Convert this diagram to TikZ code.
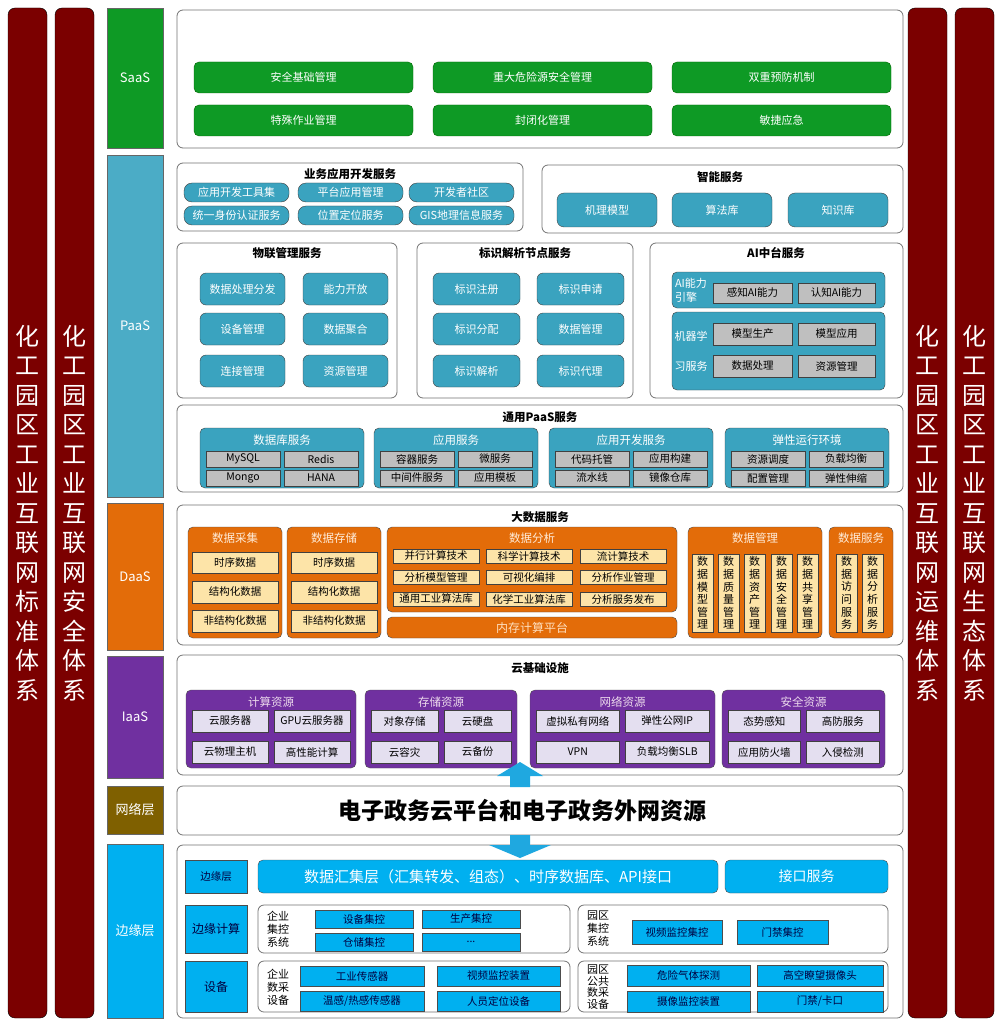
\documentclass[tikz,border=0pt]{standalone}
\usepackage{fontspec}
\setmainfont{Noto Sans CJK SC}
\usetikzlibrary{positioning}
\definecolor{pillarred}{HTML}{7B0000}
\definecolor{saasgreen}{HTML}{0E9A25}
\definecolor{paasblue}{HTML}{4BACC6}
\definecolor{btnblue}{HTML}{3AA3BF}
\definecolor{daasorange}{HTML}{E36C09}
\definecolor{cream}{HTML}{FDE4A8}
\definecolor{iaaspurple}{HTML}{7030A0}
\definecolor{lavender}{HTML}{E4DFF0}
\definecolor{netolive}{HTML}{7F6000}
\definecolor{edgecyan}{HTML}{00B0F0}
\definecolor{arrowcyan}{HTML}{1FA8E0}
\tikzset{
  blk/.style={anchor=north west,inner sep=0pt,outer sep=0pt,align=center},
  pillar/.style={blk,draw=black,fill=pillarred,rounded corners=7pt,text=white,font=\fontsize{24}{29.5}\selectfont},
  layer/.style={blk,draw=black!60,text=white,font=\fontsize{13}{15}\selectfont},
  panel/.style={blk,draw=black!55,fill=white,rounded corners=6pt,line width=0.8pt},
  ptitle/.style={inner sep=0pt,font=\bfseries\fontsize{11.5}{13}\selectfont},
  subtitle/.style={inner sep=0pt,text=white,font=\fontsize{11.5}{13}\selectfont},
  greenbtn/.style={blk,draw=black!60!green,fill=saasgreen,rounded corners=5pt,text=white,font=\fontsize{11}{13}\selectfont},
  bluebtn/.style={blk,draw=black!75,fill=btnblue,rounded corners=5pt,text=white,font=\fontsize{11}{13}\selectfont},
  bluepanel/.style={blk,draw=black!75,fill=btnblue,rounded corners=5pt},
  graybox/.style={blk,draw=black!75,fill=black!25,font=\fontsize{10.5}{12}\selectfont},
  orangepanel/.style={blk,draw=black!70,fill=daasorange,rounded corners=5pt},
  creambox/.style={blk,draw=black!75,fill=cream,font=\fontsize{10.5}{12}\selectfont},
  purplepanel/.style={blk,draw=black!70,fill=iaaspurple,rounded corners=5pt},
  lavbox/.style={blk,draw=black!75,fill=lavender,font=\fontsize{10.5}{12}\selectfont},
  cyanbox/.style={blk,draw=black!70,fill=edgecyan,text=blue!25!black,font=\fontsize{10.5}{12}\selectfont},
  sidelabel/.style={inner sep=0pt,align=left,font=\fontsize{11}{13}\selectfont},
}
\begin{document}
\begin{tikzpicture}[x=1pt,y=-1pt]
\useasboundingbox[fill=white] (0,0) rectangle (1000,1024);
        % system pillars
\node[pillar,minimum width=39pt,minimum height=1010pt] (std) at (8,8) {化\\工\\园\\区\\工\\业\\互\\联\\网\\标\\准\\体\\系};
\node[pillar,minimum width=39pt,minimum height=1010pt] (sec) at (55,8) {化\\工\\园\\区\\工\\业\\互\\联\\网\\安\\全\\体\\系};
\node[pillar,minimum width=39pt,minimum height=1010pt] (ops) at (908,8) {化\\工\\园\\区\\工\\业\\互\\联\\网\\运\\维\\体\\系};
\node[pillar,minimum width=39pt,minimum height=1010pt] (eco) at (955,8) {化\\工\\园\\区\\工\\业\\互\\联\\网\\生\\态\\体\\系};

        % layer labels
\node[layer,fill=saasgreen,minimum width=56pt,minimum height=140pt] (saas) at (107,8) {SaaS};
\node[layer,fill=paasblue,minimum width=56pt,minimum height=342pt] (paas) at (107,155) {PaaS};
\node[layer,fill=daasorange,minimum width=56pt,minimum height=147pt] (daas) at (107,503) {DaaS};
\node[layer,fill=iaaspurple,minimum width=56pt,minimum height=122pt] (iaas) at (107,656) {IaaS};
\node[layer,fill=netolive,minimum width=56pt,minimum height=48pt] (net) at (107,786) {网络层};
\node[layer,fill=edgecyan,minimum width=56pt,minimum height=174pt] (edge) at (107,844) {边缘层};

        % SaaS
\node[panel,minimum width=726pt,minimum height=138pt] (saasp) at (177,10) {};
\foreach \x/\y/\n/\t in {194/62/s1/安全基础管理,433/62/s2/重大危险源安全管理,672/62/s3/双重预防机制,
                         194/105/s4/特殊作业管理,433/105/s5/封闭化管理,672/105/s6/敏捷应急}
  \node[greenbtn,minimum width=219pt,minimum height=31pt] (\n) at (\x,\y) {\t};

        % PaaS
\node[panel,minimum width=346pt,minimum height=68pt] (bizdev) at (177,163) {};
\node[ptitle] (bizdevt) at (350,174) {业务应用开发服务};
\foreach \x/\y/\n/\t in {184/183/b1/应用开发工具集,298/183/b2/平台应用管理,409/183/b3/开发者社区,
                         184/206/b4/统一身份认证服务,298/206/b5/位置定位服务,409/206/b6/GIS地理信息服务}
  \node[bluebtn,rounded corners=8pt,minimum width=105pt,minimum height=19pt] (\n) at (\x,\y) {\t};

\node[panel,minimum width=361pt,minimum height=68pt] (smart) at (542,165) {};
\node[ptitle] (smartt) at (720,177) {智能服务};
\foreach \x/\n/\t in {557/i1/机理模型,672/i2/算法库,788/i3/知识库}
  \node[bluebtn,rounded corners=7pt,minimum width=100pt,minimum height=34pt] (\n) at (\x,193) {\t};

\node[panel,minimum width=220pt,minimum height=155pt] (iot) at (177,243) {};
\node[ptitle] (iott) at (287,253) {物联管理服务};
\foreach \x/\y/\n/\t in {200/273/w1/数据处理分发,303/273/w2/能力开放,200/313/w3/设备管理,
                         303/313/w4/数据聚合,200/355/w5/连接管理,303/355/w6/资源管理}
  \node[bluebtn,rounded corners=6pt,minimum width=85pt,minimum height=32pt] (\n) at (\x,\y) {\t};

\node[panel,minimum width=216pt,minimum height=155pt] (ident) at (417,243) {};
\node[ptitle] (identt) at (525,253) {标识解析节点服务};
\foreach \x/\y/\n/\t in {433/273/d1/标识注册,537/273/d2/标识申请,433/313/d3/标识分配,
                         537/313/d4/数据管理,433/355/d5/标识解析,537/355/d6/标识代理}
  \node[bluebtn,rounded corners=6pt,minimum width=87pt,minimum height=32pt] (\n) at (\x,\y) {\t};

\node[panel,minimum width=253pt,minimum height=155pt] (ai) at (650,243) {};
\node[ptitle] (ait) at (776,253) {AI中台服务};
\node[bluepanel,minimum width=213pt,minimum height=36pt] (aieng) at (672,272) {};
\node[subtitle,align=left,font=\fontsize{11}{14}\selectfont] (aiengl) at (691,290) {AI能力\\引擎};
\node[graybox,minimum width=79pt,minimum height=20pt] (a1) at (713,283) {感知AI能力};
\node[graybox,minimum width=77pt,minimum height=20pt] (a2) at (798,283) {认知AI能力};
\node[bluepanel,minimum width=213pt,minimum height=78pt] (ml) at (672,312) {};
\node[subtitle,align=left,font=\fontsize{11}{30}\selectfont] (mll) at (691,351) {机器学\\习服务};
\node[graybox,minimum width=79pt,minimum height=22pt] (a3) at (713,323) {模型生产};
\node[graybox,minimum width=77pt,minimum height=22pt] (a4) at (798,323) {模型应用};
\node[graybox,minimum width=79pt,minimum height=22pt] (a5) at (713,355) {数据处理};
\node[graybox,minimum width=77pt,minimum height=22pt] (a6) at (798,355) {资源管理};

\node[panel,minimum width=726pt,minimum height=87pt] (gpaas) at (177,405) {};
\node[ptitle] (gpaast) at (540,417) {通用PaaS服务};
\foreach \x/\n/\t/\a/\b/\c/\d in {200/db/数据库服务/MySQL/Redis/Mongo/HANA,
    374/app/应用服务/容器服务/微服务/中间件服务/应用模板,
    549/dev/应用开发服务/代码托管/应用构建/流水线/镜像仓库,
    725/elastic/弹性运行环境/资源调度/负载均衡/配置管理/弹性伸缩}{
  \node[bluepanel,minimum width=164pt,minimum height=60pt] (\n) at (\x,428) {};
  \node[subtitle] (\n-t) at ([yshift=-12pt]\n.north) {\t};
  \node[graybox,minimum width=74pt,minimum height=16pt] (\n-1) at ([xshift=6pt,yshift=-23pt]\n.north west) {\a};
  \node[graybox,minimum width=74pt,minimum height=16pt] (\n-2) at ([xshift=84pt,yshift=-23pt]\n.north west) {\b};
  \node[graybox,minimum width=74pt,minimum height=16pt] (\n-3) at ([xshift=6pt,yshift=-42pt]\n.north west) {\c};
  \node[graybox,minimum width=74pt,minimum height=16pt] (\n-4) at ([xshift=84pt,yshift=-42pt]\n.north west) {\d};
}

        % DaaS
\node[panel,minimum width=726pt,minimum height=140pt] (bigdata) at (177,505) {};
\node[ptitle] (bigdatat) at (540,517) {大数据服务};
\foreach \x/\n/\t in {188/col/数据采集,287/sto/数据存储}{
  \node[orangepanel,minimum width=94pt,minimum height=111pt] (\n) at (\x,527) {};
  \node[subtitle,text=orange!15] (\n-t) at ([yshift=-11pt]\n.north) {\t};
  \node[creambox,minimum width=86pt,minimum height=21pt] (\n-1) at ([xshift=4pt,yshift=-25pt]\n.north west) {时序数据};
  \node[creambox,minimum width=86pt,minimum height=22pt] (\n-2) at ([xshift=4pt,yshift=-54pt]\n.north west) {结构化数据};
  \node[creambox,minimum width=86pt,minimum height=22pt] (\n-3) at ([xshift=4pt,yshift=-83pt]\n.north west) {非结构化数据};
}
\node[orangepanel,minimum width=290pt,minimum height=85pt] (ana) at (387,527) {};
\node[subtitle,text=orange!15] (anat) at (532,538) {数据分析};
\foreach \x/\y/\n/\t in {393/549/n1/并行计算技术,486/549/n2/科学计算技术,580/549/n3/流计算技术,
                         393/570/n4/分析模型管理,486/570/n5/可视化编排,580/570/n6/分析作业管理,
                         393/592/n7/通用工业算法库,486/592/n8/化学工业算法库,580/592/n9/分析服务发布}
  \node[creambox,minimum width=86pt,minimum height=14pt] (\n) at (\x,\y) {\t};
\node[orangepanel,text=orange!25,font=\fontsize{12}{14}\selectfont,minimum width=290pt,minimum height=21pt] (mem) at (387,617) {内存计算平台};
\node[orangepanel,minimum width=134pt,minimum height=111pt] (dmgmt) at (688,527) {};
\node[subtitle,text=orange!15] (dmgmtt) at (755,538) {数据管理};
\foreach \x/\n/\t in {692/m1/数\\据\\模\\型\\管\\理,718/m2/数\\据\\质\\量\\管\\理,744/m3/数\\据\\资\\产\\管\\理,
                      771/m4/数\\据\\安\\全\\管\\理,797/m5/数\\据\\共\\享\\管\\理}
  \node[creambox,font=\fontsize{11}{12.6}\selectfont,minimum width=21pt,minimum height=78pt] (\n) at (\x,554) {\t};
\node[orangepanel,minimum width=64pt,minimum height=111pt] (dsvc) at (829,527) {};
\node[subtitle,text=orange!15] (dsvct) at (861,538) {数据服务};
\node[creambox,font=\fontsize{11}{12.6}\selectfont,minimum width=21pt,minimum height=78pt] (v1) at (836,554) {数\\据\\访\\问\\服\\务};
\node[creambox,font=\fontsize{11}{12.6}\selectfont,minimum width=21pt,minimum height=78pt] (v2) at (862,554) {数\\据\\分\\析\\服\\务};

        % IaaS
\node[panel,minimum width=726pt,minimum height=120pt] (cloud) at (177,655) {};
\node[ptitle] (cloudt) at (540,668) {云基础设施};
\foreach \x/\w/\n/\t/\a/\b/\c/\d in {186/170/cmp/计算资源/云服务器/GPU云服务器/云物理主机/高性能计算,
    365/152/stg/存储资源/对象存储/云硬盘/云容灾/云备份,
    530/185/nw/网络资源/虚拟私有网络/弹性公网IP/VPN/负载均衡SLB,
    722/163/sc/安全资源/态势感知/高防服务/应用防火墙/入侵检测}{
  \pgfmathsetmacro\bw{(\w-18)/2}
  \node[purplepanel,minimum width=\w pt,minimum height=78pt] (\n) at (\x,690) {};
  \node[subtitle,text=violet!15] (\n-t) at ([yshift=-12pt]\n.north) {\t};
  \node[lavbox,minimum width=\bw pt,minimum height=22pt] (\n-1) at ([xshift=6pt,yshift=-20pt]\n.north west) {\a};
  \node[lavbox,minimum width=\bw pt,minimum height=22pt] (\n-2) at ([xshift=\bw pt+12pt,yshift=-20pt]\n.north west) {\b};
  \node[lavbox,minimum width=\bw pt,minimum height=22pt] (\n-3) at ([xshift=6pt,yshift=-51pt]\n.north west) {\c};
  \node[lavbox,minimum width=\bw pt,minimum height=22pt] (\n-4) at ([xshift=\bw pt+12pt,yshift=-51pt]\n.north west) {\d};
}

        % network
\node[panel,minimum width=726pt,minimum height=49pt] (egov) at (177,786) {};
\node[inner sep=0pt,font=\bfseries\fontsize{23}{26}\selectfont] (egovt) at (522,811) {电子政务云平台和电子政务外网资源};
\fill[arrowcyan] (520,762) -- (543,776) -- (530,776) -- (530,787) -- (510,787) -- (510,776) -- (497,776) -- cycle;

        % edge
\node[panel,minimum width=726pt,minimum height=173pt] (edgep) at (177,845) {};
\fill[arrowcyan] (510,835) -- (530,835) -- (530,845) -- (551,845) -- (520,858) -- (489,845) -- (510,845) -- cycle;
\node[cyanbox,minimum width=62pt,minimum height=33pt] (e1) at (185,860) {边缘层};
\node[cyanbox,rounded corners=5pt,text=white,font=\fontsize{15}{17}\selectfont,minimum width=460pt,minimum height=33pt] (gather) at (258,860) {数据汇集层（汇集转发、组态）、时序数据库、API接口};
\node[cyanbox,rounded corners=5pt,text=white,font=\fontsize{14}{16}\selectfont,minimum width=163pt,minimum height=33pt] (iface) at (725,860) {接口服务};

\node[cyanbox,font=\fontsize{12}{14}\selectfont,minimum width=62pt,minimum height=48pt] (e2) at (185,905) {边缘计算};
\node[panel,minimum width=312pt,minimum height=48pt] (entctl) at (258,905) {};
\node[sidelabel] (entctll) at (278,929) {企业\\集控\\系统};
\node[cyanbox,minimum width=98pt,minimum height=18pt] (c1) at (315,910) {设备集控};
\node[cyanbox,minimum width=98pt,minimum height=18pt] (c2) at (422,910) {生产集控};
\node[cyanbox,minimum width=98pt,minimum height=18pt] (c3) at (315,933) {仓储集控};
\node[cyanbox,minimum width=98pt,minimum height=18pt] (c4) at (422,933) {...};
\node[panel,minimum width=310pt,minimum height=48pt] (parkctl) at (578,905) {};
\node[sidelabel] (parkctll) at (598,929) {园区\\集控\\系统};
\node[cyanbox,minimum width=90pt,minimum height=24pt] (c5) at (632,920) {视频监控集控};
\node[cyanbox,minimum width=91pt,minimum height=24pt] (c6) at (737,920) {门禁集控};

\node[cyanbox,font=\fontsize{12}{14}\selectfont,minimum width=62pt,minimum height=51pt] (e3) at (185,961) {设备};
\node[panel,minimum width=312pt,minimum height=51pt] (entacq) at (258,961) {};
\node[sidelabel] (entacql) at (278,987) {企业\\数采\\设备};
\node[cyanbox,minimum width=124pt,minimum height=20pt] (q1) at (300,966) {工业传感器};
\node[cyanbox,minimum width=123pt,minimum height=20pt] (q2) at (437,966) {视频监控装置};
\node[cyanbox,minimum width=124pt,minimum height=20pt] (q3) at (300,991) {温感/热感传感器};
\node[cyanbox,minimum width=123pt,minimum height=20pt] (q4) at (437,991) {人员定位设备};
\node[panel,minimum width=310pt,minimum height=51pt] (parkacq) at (578,961) {};
\node[sidelabel,font=\fontsize{11}{11.8}\selectfont] (parkacql) at (598,987) {园区\\公共\\数采\\设备};
\node[cyanbox,minimum width=123pt,minimum height=21pt] (q5) at (627,965) {危险气体探测};
\node[cyanbox,minimum width=126pt,minimum height=21pt] (q6) at (757,965) {高空瞭望摄像头};
\node[cyanbox,minimum width=123pt,minimum height=21pt] (q7) at (627,991) {摄像监控装置};
\node[cyanbox,minimum width=126pt,minimum height=21pt] (q8) at (757,991) {门禁/卡口};
    \end{tikzpicture}
\end{document}
